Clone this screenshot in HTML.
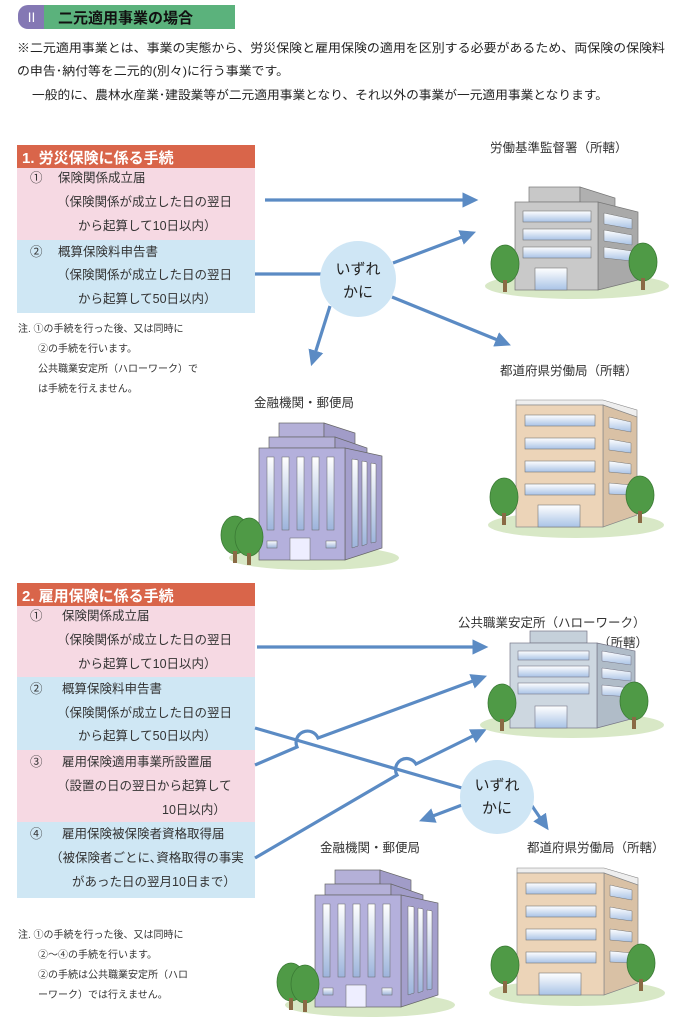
<!DOCTYPE html>
<html><head><meta charset="utf-8"><style>
html,body{margin:0;padding:0;background:#fff;}
svg{display:block;}
text{font-family:"Liberation Sans","Noto Sans CJK JP",sans-serif;}
</style></head><body>
<svg width="687" height="1024" viewBox="0 0 687 1024" xmlns="http://www.w3.org/2000/svg">
<defs>
<linearGradient id="win" x1="0" y1="0" x2="0" y2="1"><stop offset="0" stop-color="#ffffff"/><stop offset="1" stop-color="#a9c3e6"/></linearGradient>
<linearGradient id="winv" x1="0" y1="0" x2="0" y2="1"><stop offset="0" stop-color="#ffffff"/><stop offset="1" stop-color="#9db4dc"/></linearGradient>
<marker id="ah" markerWidth="6" markerHeight="6" refX="3" refY="3" orient="auto" markerUnits="strokeWidth"><path d="M0,0.6 L5,3 L0,5.4 z" fill="#5b8bc4"/></marker>
<g id="tree"><ellipse cx="0" cy="-18" rx="14" ry="19" fill="#4f9a46" stroke="#3a7a34" stroke-width="0.8"/><rect x="-2" y="-2" width="4" height="12" fill="#8a6a45"/></g>
<g id="gray">
<ellipse cx="62" cy="84" rx="92" ry="13" fill="#d8e8c6"/>
<rect x="14" y="-15" width="51" height="15" fill="#c8c8c8" stroke="#777" stroke-width="0.7"/>
<polygon points="65,-15 100,-4 100,8 65,0" fill="#b0b0b0" stroke="#777" stroke-width="0.7"/>
<polygon points="83,0 123,10 123,78 83,88" fill="#a9a9a9" stroke="#777" stroke-width="0.7"/>
<rect x="0" y="0" width="83" height="88" fill="#c9c9c9" stroke="#777" stroke-width="0.7"/>
<rect x="8" y="9" width="68" height="11" fill="url(#win)" stroke="#777" stroke-width="0.6"/>
<rect x="8" y="27" width="68" height="11" fill="url(#win)" stroke="#777" stroke-width="0.6"/>
<rect x="8" y="45" width="68" height="11" fill="url(#win)" stroke="#777" stroke-width="0.6"/>
<polygon points="89,11 117,17 117,27 89,22" fill="url(#win)" stroke="#777" stroke-width="0.5"/>
<polygon points="89,28 117,33 117,43 89,39" fill="url(#win)" stroke="#777" stroke-width="0.5"/>
<polygon points="89,45 117,49 117,59 89,56" fill="url(#win)" stroke="#777" stroke-width="0.5"/>
<rect x="20" y="66" width="32" height="22" fill="url(#win)" stroke="#777" stroke-width="0.6"/>
<use href="#tree" x="-10" y="80"/><use href="#tree" x="128" y="78"/>
</g>
<g id="hw">
<ellipse cx="62" cy="82" rx="92" ry="13" fill="#d8e8c6"/>
<rect x="20" y="-12" width="57" height="12" fill="#c5d0da" stroke="#778" stroke-width="0.7"/>
<polygon points="87,0 125,8 125,75 87,85" fill="#b0bcc8" stroke="#778" stroke-width="0.7"/>
<rect x="0" y="0" width="87" height="85" fill="#cdd7e0" stroke="#778" stroke-width="0.7"/>
<rect x="8" y="8" width="71" height="9" fill="url(#win)" stroke="#778" stroke-width="0.6"/>
<rect x="8" y="23" width="71" height="11" fill="url(#win)" stroke="#778" stroke-width="0.6"/>
<rect x="8" y="40" width="71" height="11" fill="url(#win)" stroke="#778" stroke-width="0.6"/>
<polygon points="92,8 121,13 121,22 92,18" fill="url(#win)" stroke="#778" stroke-width="0.5"/>
<polygon points="92,25 121,29 121,38 92,35" fill="url(#win)" stroke="#778" stroke-width="0.5"/>
<polygon points="92,42 121,45 121,54 92,52" fill="url(#win)" stroke="#778" stroke-width="0.5"/>
<rect x="25" y="63" width="32" height="22" fill="url(#win)" stroke="#778" stroke-width="0.6"/>
<use href="#tree" x="-8" y="78"/><use href="#tree" x="124" y="76"/>
</g>
<g id="beige">
<ellipse cx="60" cy="120" rx="88" ry="13" fill="#d8e8c6"/>
<polygon points="0,-5 87,-5 121,5 121,12 87,0 0,0" fill="#eee" stroke="#888" stroke-width="0.6"/>
<polygon points="87,0 121,12 121,110 87,122" fill="#d9c1a5" stroke="#888" stroke-width="0.7"/>
<rect x="0" y="0" width="87" height="122" fill="#ecd4b8" stroke="#888" stroke-width="0.7"/>
<rect x="9" y="10" width="70" height="11" fill="url(#win)" stroke="#777" stroke-width="0.6"/>
<rect x="9" y="33" width="70" height="11" fill="url(#win)" stroke="#777" stroke-width="0.6"/>
<rect x="9" y="56" width="70" height="11" fill="url(#win)" stroke="#777" stroke-width="0.6"/>
<rect x="9" y="79" width="70" height="11" fill="url(#win)" stroke="#777" stroke-width="0.6"/>
<polygon points="93,12 115,17 115,27 93,23" fill="url(#win)" stroke="#777" stroke-width="0.5"/>
<polygon points="93,34 115,38 115,48 93,45" fill="url(#win)" stroke="#777" stroke-width="0.5"/>
<polygon points="93,56 115,59 115,69 93,67" fill="url(#win)" stroke="#777" stroke-width="0.5"/>
<polygon points="93,78 115,80 115,90 93,89" fill="url(#win)" stroke="#777" stroke-width="0.5"/>
<rect x="22" y="100" width="42" height="22" fill="url(#win)" stroke="#777" stroke-width="0.6"/>
<use href="#tree" x="-12" y="110"/><use href="#tree" x="124" y="108"/>
</g>
<g id="purple">
<ellipse cx="55" cy="110" rx="85" ry="12" fill="#d8e8c6"/>
<rect x="20" y="-25" width="45" height="14" fill="#b4b0d8" stroke="#666" stroke-width="0.7"/>
<polygon points="65,-25 96,-15 96,-3 65,-11" fill="#a19cc8" stroke="#666" stroke-width="0.7"/>
<rect x="10" y="-11" width="66" height="11" fill="#b4b0d8" stroke="#666" stroke-width="0.7"/>
<polygon points="76,-11 108,0 108,8 76,0" fill="#a19cc8" stroke="#666" stroke-width="0.7"/>
<polygon points="86,0 123,8 123,100 86,112" fill="#a49fcc" stroke="#666" stroke-width="0.7"/>
<rect x="0" y="0" width="86" height="112" fill="#b4b0dc" stroke="#666" stroke-width="0.7"/>
<rect x="8" y="9" width="7" height="73" fill="url(#winv)" stroke="#666" stroke-width="0.5"/>
<rect x="23" y="9" width="7" height="73" fill="url(#winv)" stroke="#666" stroke-width="0.5"/>
<rect x="38" y="9" width="7" height="73" fill="url(#winv)" stroke="#666" stroke-width="0.5"/>
<rect x="53" y="9" width="7" height="73" fill="url(#winv)" stroke="#666" stroke-width="0.5"/>
<rect x="68" y="9" width="7" height="73" fill="url(#winv)" stroke="#666" stroke-width="0.5"/>
<polygon points="93,11 99,12 99,98 93,100" fill="url(#winv)" stroke="#666" stroke-width="0.5"/>
<polygon points="103,13 108,14 108,96 103,98" fill="url(#winv)" stroke="#666" stroke-width="0.5"/>
<polygon points="112,15 117,16 117,94 112,95" fill="url(#winv)" stroke="#666" stroke-width="0.5"/>
<rect x="8" y="93" width="10" height="7" fill="url(#winv)" stroke="#666" stroke-width="0.5"/>
<rect x="67" y="93" width="10" height="7" fill="url(#winv)" stroke="#666" stroke-width="0.5"/>
<rect x="31" y="90" width="20" height="22" fill="#eef" stroke="#666" stroke-width="0.5"/>
<use href="#tree" x="-24" y="105"/><use href="#tree" x="-10" y="107"/>
</g>
</defs>

<!-- header -->
<rect x="18" y="5" width="26" height="24" rx="10" fill="#8478b4"/>
<rect x="32" y="5" width="12" height="24" fill="#8478b4"/>
<text x="25" y="22" font-size="13" fill="#fff">Ⅱ</text>
<rect x="44" y="5" width="191" height="24" fill="#5bb27c"/>
<text x="58" y="23" font-size="15" fill="#111" font-weight="bold">二元適用事業の場合</text>
<g font-size="12" fill="#222">
<text x="17" y="52" textLength="648" lengthAdjust="spacingAndGlyphs">※二元適用事業とは、事業の実態から、労災保険と雇用保険の適用を区別する必要があるため、両保険の保険料</text>
<text x="17" y="75" textLength="272" lengthAdjust="spacingAndGlyphs">の申告･納付等を二元的(別々)に行う事業です。</text>
<text x="32" y="99" textLength="576" lengthAdjust="spacingAndGlyphs">一般的に、農林水産業･建設業等が二元適用事業となり、それ以外の事業が一元適用事業となります。</text>
</g>

<!-- section 1 -->
<rect x="17" y="145" width="238" height="23" fill="#d9654a"/>
<text x="22" y="163" font-size="15" fill="#fff" font-weight="bold">1.  労災保険に係る手続</text>
<rect x="17" y="168" width="238" height="72" fill="#f6d9e3"/>
<rect x="17" y="240" width="238" height="73" fill="#cfe7f4"/>
<g font-size="12.5" fill="#333">
<text x="30" y="182">①</text><text x="58" y="182">保険関係成立届</text>
<text x="57" y="206">（保険関係が成立した日の翌日</text>
<text x="78" y="230">から起算して10日以内）</text>
<text x="30" y="256">②</text><text x="58" y="256">概算保険料申告書</text>
<text x="57" y="279">（保険関係が成立した日の翌日</text>
<text x="78" y="303">から起算して50日以内）</text>
</g>
<g font-size="10" fill="#333">
<text x="18" y="332">注.  ①の手続を行った後、又は同時に</text>
<text x="38" y="352">②の手続を行います。</text>
<text x="38" y="372">公共職業安定所（ハローワーク）で</text>
<text x="38" y="392">は手続を行えません。</text>
</g>
<g stroke="#5b8bc4" stroke-width="3.2" fill="none">
<line x1="265" y1="200" x2="472" y2="200" marker-end="url(#ah)"/>
<line x1="255" y1="274" x2="322" y2="274"/>
<line x1="393" y1="263" x2="470" y2="234" marker-end="url(#ah)"/>
<line x1="392" y1="297" x2="505" y2="343" marker-end="url(#ah)"/>
<line x1="330" y1="306" x2="313" y2="360" marker-end="url(#ah)"/>
</g>
<circle cx="358" cy="279" r="38" fill="#cfe6f5"/>
<text x="358" y="274" font-size="15" text-anchor="middle" fill="#222">いずれ</text>
<text x="358" y="297" font-size="15" text-anchor="middle" fill="#222">かに</text>
<text x="490" y="152" font-size="12.5" fill="#333">労働基準監督署（所轄）</text>
<text x="500" y="375" font-size="12.5" fill="#333">都道府県労働局（所轄）</text>
<text x="254" y="407" font-size="12.5" fill="#333">金融機関・郵便局</text>
<use href="#gray" x="515" y="202"/>
<use href="#beige" x="516" y="405"/>
<use href="#purple" x="259" y="448"/>

<!-- section 2 -->
<rect x="17" y="583" width="238" height="23" fill="#d9654a"/>
<text x="22" y="601" font-size="15" fill="#fff" font-weight="bold">2.  雇用保険に係る手続</text>
<rect x="17" y="606" width="238" height="71" fill="#f6d9e3"/>
<rect x="17" y="677" width="238" height="73" fill="#cfe7f4"/>
<rect x="17" y="750" width="238" height="72" fill="#f6d9e3"/>
<rect x="17" y="822" width="238" height="76" fill="#cfe7f4"/>
<g font-size="12.5" fill="#333">
<text x="30" y="620">①</text><text x="62" y="620">保険関係成立届</text>
<text x="57" y="644">（保険関係が成立した日の翌日</text>
<text x="78" y="668">から起算して10日以内）</text>
<text x="30" y="693">②</text><text x="62" y="693">概算保険料申告書</text>
<text x="57" y="717">（保険関係が成立した日の翌日</text>
<text x="78" y="740">から起算して50日以内）</text>
<text x="30" y="766">③</text><text x="62" y="766">雇用保険適用事業所設置届</text>
<text x="57" y="790">（設置の日の翌日から起算して</text>
<text x="162" y="814">10日以内）</text>
<text x="30" y="838">④</text><text x="62" y="838">雇用保険被保険者資格取得届</text>
<text x="50" y="862">（被保険者ごとに､資格取得の事実</text>
<text x="72" y="886">があった日の翌月10日まで）</text>
</g>
<g font-size="10" fill="#333">
<text x="18" y="938">注.  ①の手続を行った後、又は同時に</text>
<text x="38" y="958">②～④の手続を行います。</text>
<text x="38" y="978">②の手続は公共職業安定所（ハロ</text>
<text x="38" y="998">ーワーク）では行えません。</text>
</g>
<g stroke="#5b8bc4" stroke-width="3.2" fill="none">
<line x1="257" y1="647" x2="482" y2="647" marker-end="url(#ah)"/>
<line x1="255" y1="728" x2="462" y2="788"/>
<path d="M255,765 L297,747 A10,10 0 0 1 318,738 L481,678" marker-end="url(#ah)"/>
<path d="M255,858 L397,775 A10,10 0 0 1 416,764 L481,732" marker-end="url(#ah)"/>
<line x1="462" y1="805" x2="425" y2="819" marker-end="url(#ah)"/>
<line x1="530" y1="803" x2="545" y2="825" marker-end="url(#ah)"/>
</g>
<circle cx="497" cy="797" r="37" fill="#cfe6f5"/>
<text x="497" y="790" font-size="15" text-anchor="middle" fill="#222">いずれ</text>
<text x="497" y="813" font-size="15" text-anchor="middle" fill="#222">かに</text>
<text x="458" y="627" font-size="12.5" fill="#333">公共職業安定所（ハローワーク）</text>
<text x="598" y="647" font-size="12.5" fill="#333">（所轄）</text>
<text x="320" y="852" font-size="12.5" fill="#333">金融機関・郵便局</text>
<text x="527" y="852" font-size="12.5" fill="#333">都道府県労働局（所轄）</text>
<use href="#hw" x="510" y="643"/>
<use href="#purple" x="315" y="895"/>
<use href="#beige" x="517" y="873"/>
</svg>
</body></html>
